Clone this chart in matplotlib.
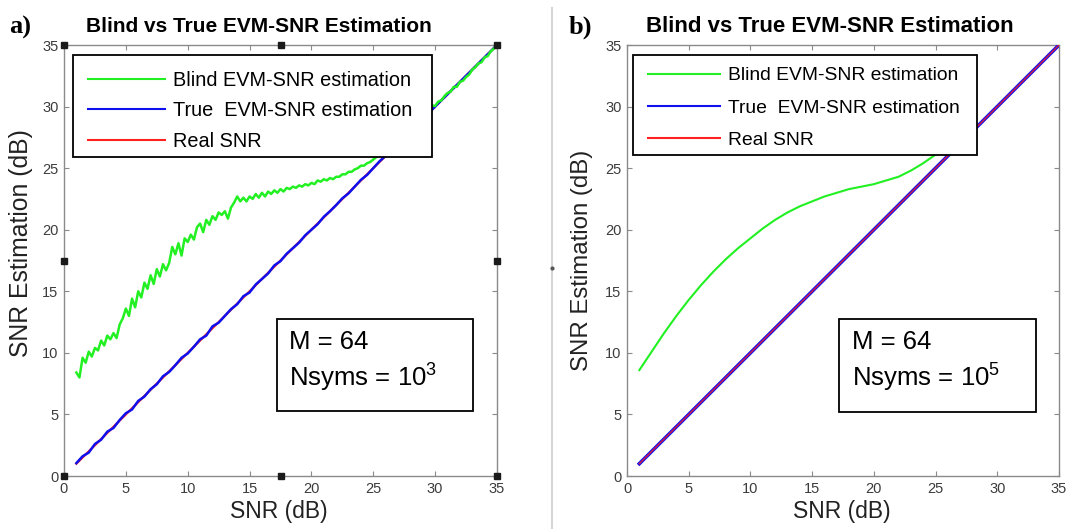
"""
Blind vs True EVM-SNR estimation — two panels (Nsyms = 10^3 and 10^5).
"""

import matplotlib

matplotlib.use("Agg")

import matplotlib.pyplot as plt
from matplotlib.lines import Line2D
from matplotlib.patches import Rectangle
import numpy as np

plt.rcParams["font.family"] = ["Liberation Sans", "DejaVu Sans"]
plt.rcParams["mathtext.fontset"] = "custom"
plt.rcParams["mathtext.rm"] = "Liberation Sans"
plt.rcParams["mathtext.default"] = "regular"

# ---- panel a data (Nsyms = 10^3), blind estimate sampled every 0.25 dB ----
snr_blind_a = np.arange(1.0, 35.01, 0.25)
blind_a = [
    8.4, 8.0, 9.6, 9.2, 10.1, 9.7, 10.4, 10.2,
    11.0, 10.6, 11.4, 11.1, 11.6, 11.2, 12.3, 12.8,
    13.6, 13.0, 14.4, 13.7, 15.0, 14.5, 15.7, 15.2,
    16.3, 15.6, 16.8, 16.2, 17.2, 16.7, 17.3, 18.6,
    18.0, 18.9, 17.9, 19.3, 19.0, 19.6, 19.2, 20.2,
    20.5, 19.8, 20.8, 20.4, 21.1, 20.8, 21.4, 21.2,
    21.5, 20.9, 21.8, 22.2, 22.7, 22.3, 22.6, 22.3,
    22.7, 22.5, 22.9, 22.6, 23.0, 22.7, 23.1, 22.9,
    23.2, 23.0, 23.3, 23.1, 23.4, 23.3, 23.5, 23.4,
    23.6, 23.5, 23.7, 23.6, 23.8, 23.7, 24.0, 23.9,
    24.1, 24.0, 24.2, 24.1, 24.3, 24.3, 24.5, 24.5,
    24.7, 24.7, 24.9, 25.0, 25.2, 25.2, 25.4, 25.5,
    25.7, 25.9, 26.1, 26.4, 26.6, 26.9, 27.1, 27.4,
    27.6, 27.9, 28.1, 28.4, 28.6, 28.9, 29.1, 29.4,
    29.6, 29.8, 30.0, 30.1, 30.05, 30.4, 30.5, 30.85,
    31.1, 31.2, 31.6, 31.6, 32.0, 32.1, 32.4, 32.6,
    33.0, 33.2, 33.5, 33.6, 34.0, 34.1, 34.5, 34.7,
    35.0,
]

# true EVM-SNR estimate, every 0.5 dB
snr_true_a = np.arange(1.0, 35.01, 0.5)
true_a = [
    1.05, 1.6, 1.9, 2.6, 2.95, 3.6, 3.9, 4.55, 5.1, 5.4,
    6.1, 6.45, 7.05, 7.45, 8.1, 8.45, 9.0, 9.6, 9.95, 10.5,
    11.1, 11.4, 12.15, 12.45, 13.0, 13.55, 13.95, 14.6, 14.9, 15.55,
    16.0, 16.45, 17.1, 17.45, 18.05, 18.5, 18.95, 19.55, 20.0, 20.45,
    21.05, 21.5, 22.0, 22.55, 22.95, 23.5, 24.05, 24.45, 25.0, 25.55,
    26.0, 26.5, 27.05, 27.5, 28.0, 28.5, 29.0, 29.5, 30.0, 30.5,
    31.0, 31.5, 32.0, 32.5, 33.0, 33.5, 34.0, 34.5, 35.0,
]

# ---- panel b data (Nsyms = 10^5), smooth curves every 1 dB ----
snr_blind_b = np.arange(1, 29)
blind_b = [
    8.6, 10.1, 11.6, 13.0, 14.3, 15.5, 16.6, 17.6, 18.5, 19.3,
    20.1, 20.8, 21.4, 21.9, 22.3, 22.7, 23.0, 23.3, 23.5, 23.7,
    24.0, 24.3, 24.8, 25.4, 26.1, 26.8, 27.5, 28.2,
]

snr_b = np.arange(1, 36)
true_b = [
    1.0, 2.0, 3.0, 4.0, 5.0, 6.0, 7.0, 8.0, 9.0, 10.0,
    11.0, 12.0, 13.0, 14.0, 15.0, 16.0, 17.0, 18.0, 19.0, 20.0,
    21.0, 22.0, 23.0, 24.0, 25.0, 26.0, 27.0, 28.0, 29.0, 30.0,
    31.0, 32.0, 33.0, 34.0, 35.0,
]

legend_labels = ["Blind EVM-SNR estimation", "True  EVM-SNR estimation", "Real SNR"]
ticks = [0, 5, 10, 15, 20, 25, 30, 35]

GREEN = "#22f022"
BLUE = "#1010ee"
RED = "#ff2020"

fig = plt.figure(figsize=(10.74, 5.29), dpi=100)
ax_a = fig.add_axes([64 / 1074, 1 - 476 / 529, 433 / 1074, 431 / 529])
ax_b = fig.add_axes([627 / 1074, 1 - 476 / 529, 432 / 1074, 431 / 529])


def style_axes(ax):
    ax.set_xlim(0, 35)
    ax.set_ylim(0, 35)
    ax.set_xticks(ticks)
    ax.set_yticks(ticks)
    ax.tick_params(direction="in", length=3.5, width=0.8, color="#8a8a8a",
                   labelsize=10.5, labelcolor="#3c3c3c", top=True, right=True, pad=4)
    for sp in ax.spines.values():
        sp.set_color("#8a8a8a")
        sp.set_linewidth(1.0)


def draw_legend(ax, box, anchor, fontsize, handlelength, labelspacing):
    ax.add_patch(Rectangle((box[0], box[1]), box[2] - box[0], box[3] - box[1],
                           transform=ax.transAxes, facecolor="white",
                           edgecolor="black", linewidth=1.3, zorder=6))
    handles = [Line2D([], [], color=c, linewidth=1.5) for c in (GREEN, BLUE, RED)]
    leg = ax.legend(handles, legend_labels, loc="upper left", bbox_to_anchor=anchor,
                    frameon=False, borderpad=0, borderaxespad=0,
                    handlelength=handlelength, handletextpad=0.4,
                    labelspacing=labelspacing, fontsize=fontsize)
    leg.set_zorder(7)


def draw_info(ax, box, text_x, exponent):
    ax.add_patch(Rectangle((box[0], box[1]), box[2] - box[0], box[3] - box[1],
                           transform=ax.transAxes, facecolor="white",
                           edgecolor="black", linewidth=1.3, zorder=6))
    ax.text(text_x, 0.311, "M = 64", transform=ax.transAxes, fontsize=18.5,
            va="center", ha="left", zorder=7)
    ax.text(text_x, 0.228, "Nsyms = 10$^{%d}$" % exponent, transform=ax.transAxes,
            fontsize=18.5, va="center", ha="left", zorder=7)


# ---- panel a ----
style_axes(ax_a)
ax_a.plot(true_b, true_b, color=RED, linewidth=1.6, zorder=2)
ax_a.plot(snr_true_a, true_a, color=BLUE, linewidth=1.8, zorder=3)
ax_a.plot(snr_blind_a, blind_a, color=GREEN, linewidth=1.8, zorder=4)
draw_legend(ax_a, (0.021, 0.740, 0.850, 0.977), (0.055, 0.940), 14.3, 3.88, 0.57)
draw_info(ax_a, (0.492, 0.151, 0.945, 0.364), 0.520, 3)
ax_a.set_xlabel("SNR (dB)", fontsize=16.5, color="#222222")
ax_a.set_ylabel("SNR Estimation (dB)", fontsize=17.8, color="#222222")
ax_a.xaxis.set_label_coords(0.497, -0.055)
ax_a.yaxis.set_label_coords(-0.072, 0.541)

# selection handles left over from the figure editor
hx = [0, 17.5, 35, 0, 35, 0, 17.5, 35]
hy = [35, 35, 35, 17.5, 17.5, 0, 0, 0]
ax_a.plot(hx, hy, linestyle="none", marker="s", markersize=4.3,
          color="#1a1a1a", clip_on=False, zorder=10)

# ---- panel b ----
style_axes(ax_b)
ax_b.plot(snr_blind_b, blind_b, color=GREEN, linewidth=1.5, zorder=2)
ax_b.plot(snr_b, true_b, color=BLUE, linewidth=2.6, zorder=3)
ax_b.plot(snr_b, true_b, color=RED, linewidth=1.0, alpha=0.85, zorder=4)
draw_legend(ax_b, (0.014, 0.745, 0.810, 0.977), (0.049, 0.949), 13.9, 3.73, 0.76)
draw_info(ax_b, (0.491, 0.149, 0.947, 0.364), 0.520, 5)
ax_b.set_xlabel("SNR (dB)", fontsize=16.5, color="#222222")
ax_b.set_ylabel("SNR Estimation (dB)", fontsize=17.3, color="#222222")
ax_b.xaxis.set_label_coords(0.497, -0.055)
ax_b.yaxis.set_label_coords(-0.079, 0.501)

# titles and panel tags
fig.text(259 / 1074, 1 - 26 / 529, "Blind vs True EVM-SNR Estimation",
         fontsize=15, fontweight="bold", ha="center", va="center")
fig.text(830 / 1074, 1 - 26 / 529, "Blind vs True EVM-SNR Estimation",
         fontsize=16, fontweight="bold", ha="center", va="center")
fig.text(9 / 1074, 1 - 27 / 529, "a)", fontsize=19, fontweight="bold",
         family=["Liberation Serif", "DejaVu Serif"], ha="left", va="center")
fig.text(569 / 1074, 1 - 27 / 529, "b)", fontsize=19, fontweight="bold",
         family=["Liberation Serif", "DejaVu Serif"], ha="left", va="center")

# divider between the two panels
fig.add_artist(Line2D([552 / 1074, 552 / 1074], [0, 1 - 8 / 529],
                      transform=fig.transFigure, color="#d6d6d6", linewidth=1.5))
fig.add_artist(Line2D([552 / 1074], [1 - 268 / 529], transform=fig.transFigure,
                      marker="o", markersize=2, color="#555555", linestyle="none"))

fig.savefig("out.png", dpi=100, facecolor="white")
